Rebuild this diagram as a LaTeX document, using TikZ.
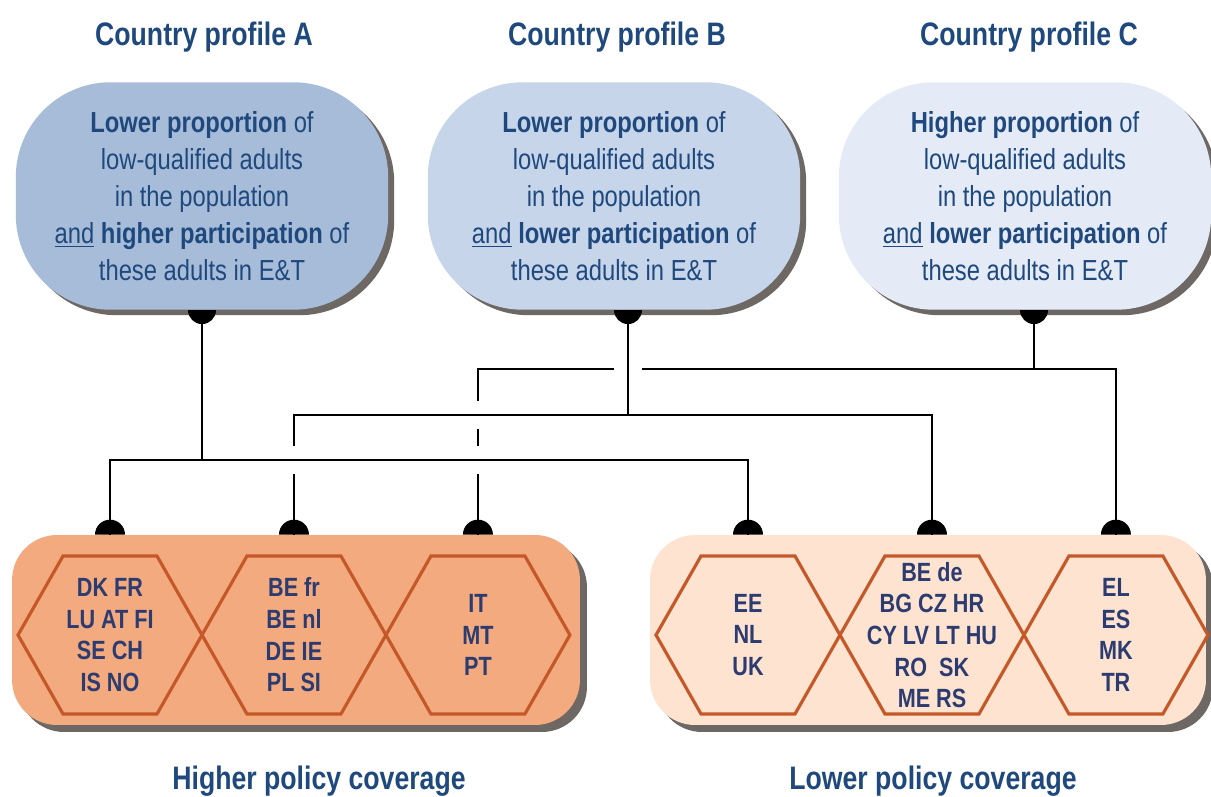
\documentclass[tikz,border=0pt]{standalone}
\usepackage{fontspec}
\setmainfont{Liberation Sans}[FakeStretch=0.82]
\usepackage{tikz}
\usetikzlibrary{positioning,shadows}
\pgfdeclarelayer{bg}
\pgfsetlayers{bg,main}

\definecolor{titleblue}{RGB}{31,73,125}
\definecolor{codeblue}{RGB}{44,60,112}
\definecolor{profA}{RGB}{167,188,217}
\definecolor{profB}{RGB}{198,213,233}
\definecolor{profC}{RGB}{228,235,246}
\definecolor{shadowgray}{RGB}{110,104,100}
\definecolor{highfill}{RGB}{242,170,126}
\definecolor{lowfill}{RGB}{253,227,208}
\definecolor{hexorange}{RGB}{196,88,40}

\begin{document}
\begin{tikzpicture}[x=0.02cm, y=-0.02cm, node distance=0pt,
		headline/.style={font=\fontsize{18.5}{22}\selectfont\bfseries, text=titleblue},
		profile/.style={minimum width=7.45cm, minimum height=4.55cm, rounded corners=1.9cm, align=center, text=titleblue, font=\fontsize{16.5}{21}\selectfont, drop shadow={shadow xshift=0.12cm, shadow yshift=-0.11cm, fill=shadowgray, opacity=1}},
		groupbox/.style={minimum height=3.8cm, rounded corners=0.9cm, drop shadow={shadow xshift=0.14cm, shadow yshift=-0.14cm, fill=shadowgray, opacity=1}},
		hexa/.style={minimum width=3.68cm, minimum height=3.16cm, inner sep=0pt, outer sep=0pt, align=center, text=codeblue, font=\fontsize{15}{18}\selectfont\bfseries},
		hexline/.style={draw=hexorange, line width=1.8pt, line join=miter},
		link/.style={line width=1.4pt},
		linkover/.style={preaction={draw=white, line width=0.56cm}}]
	\useasboundingbox (0,0) rectangle (1211,797);

	\node[headline, anchor=base] (tA) at (204,46)  {Country profile A};
	\node[headline, anchor=base] (tB) at (617,46)  {Country profile B};
	\node[headline, anchor=base] (tC) at (1029,46) {Country profile C};

	\node[profile, fill=profA] (pA) at (202,196)  {\textbf{Lower proportion} of\\low-qualified adults\\in the population\\\underline{and} \textbf{higher participation} of\\these adults in E\&T};
	\node[profile, fill=profB] (pB) at (614,196)  {\textbf{Lower proportion} of\\low-qualified adults\\in the population\\\underline{and} \textbf{lower participation} of\\these adults in E\&T};
	\node[profile, fill=profC] (pC) at (1025,196) {\textbf{Higher proportion} of\\low-qualified adults\\in the population\\\underline{and} \textbf{lower participation} of\\these adults in E\&T};

	\coordinate (sA) at (pA.south);
	\coordinate (sB) at ([xshift=0.28cm]pB.south);
	\coordinate (sC) at ([xshift=0.18cm]pC.south);

	\node[groupbox, fill=highfill, minimum width=11.36cm] (gHigh) at (296,630) {};
	\node[groupbox, fill=lowfill,  minimum width=11.12cm] (gLow)  at (928,630) {};

	\node[hexa] (hDK) at (110,635) {DK FR\\LU AT FI\\SE CH\\IS NO};
	\node[hexa, right=of hDK]   (hBEfr) {BE fr\\BE nl\\DE IE\\PL SI};
	\node[hexa, right=of hBEfr] (hIT)   {IT\\MT\\PT};
	\node[hexa] (hEE) at (748,635) {EE\\NL\\UK};
	\node[hexa, right=of hEE]   (hBEde) {BE de\\BG CZ HR\\CY LV LT HU\\RO\ \ SK\\ME RS};
	\node[hexa, right=of hBEde] (hEL)   {EL\\ES\\MK\\TR};

	\foreach \h in {hDK,hBEfr,hIT,hEE,hBEde,hEL}
		\draw[hexline] (\h.west) -- ([xshift=0.9cm]\h.north west) -- ([xshift=-0.9cm]\h.north east) -- (\h.east) -- ([xshift=-0.9cm]\h.south east) -- ([xshift=0.9cm]\h.south west) -- cycle;

	\foreach \h/\d in {hDK/dDK,hBEfr/dBEfr,hIT/dIT,hEE/dEE,hBEde/dBEde,hEL/dEL}
		\coordinate (\d) at (\h.north |- gHigh.north);

	\coordinate (busA) at (0,460);
	\coordinate (busB) at (0,415);
	\coordinate (busC) at (0,369);

	\begin{pgfonlayer}{bg}
		\draw[link] (dIT) |- (dEL |- busC) -- (dEL) (sC) -- (sC |- busC);
		\draw[link, linkover] (dBEfr) |- (dBEde |- busB) -- (dBEde) (sB) -- (sB |- busB);
		\draw[link, linkover] (dDK) |- (dEE |- busA) -- (dEE) (sA) -- (sA |- busA);
	\end{pgfonlayer}

	\foreach \d in {dDK,dBEfr,dIT,dEE,dBEde,dEL}
		\fill ([xshift=-0.3cm]\d) arc[start angle=180, end angle=0, radius=0.3cm] -- cycle;
	\foreach \s in {sA,sB,sC}
		\fill ([xshift=-0.28cm]\s) arc[start angle=180, end angle=360, radius=0.28cm] -- cycle;

	\node[headline, anchor=base] (lHigh) at (319,789) {Higher policy coverage};
	\node[headline, anchor=base] (lLow)  at (933,789) {Lower policy coverage};
\end{tikzpicture}
\end{document}
